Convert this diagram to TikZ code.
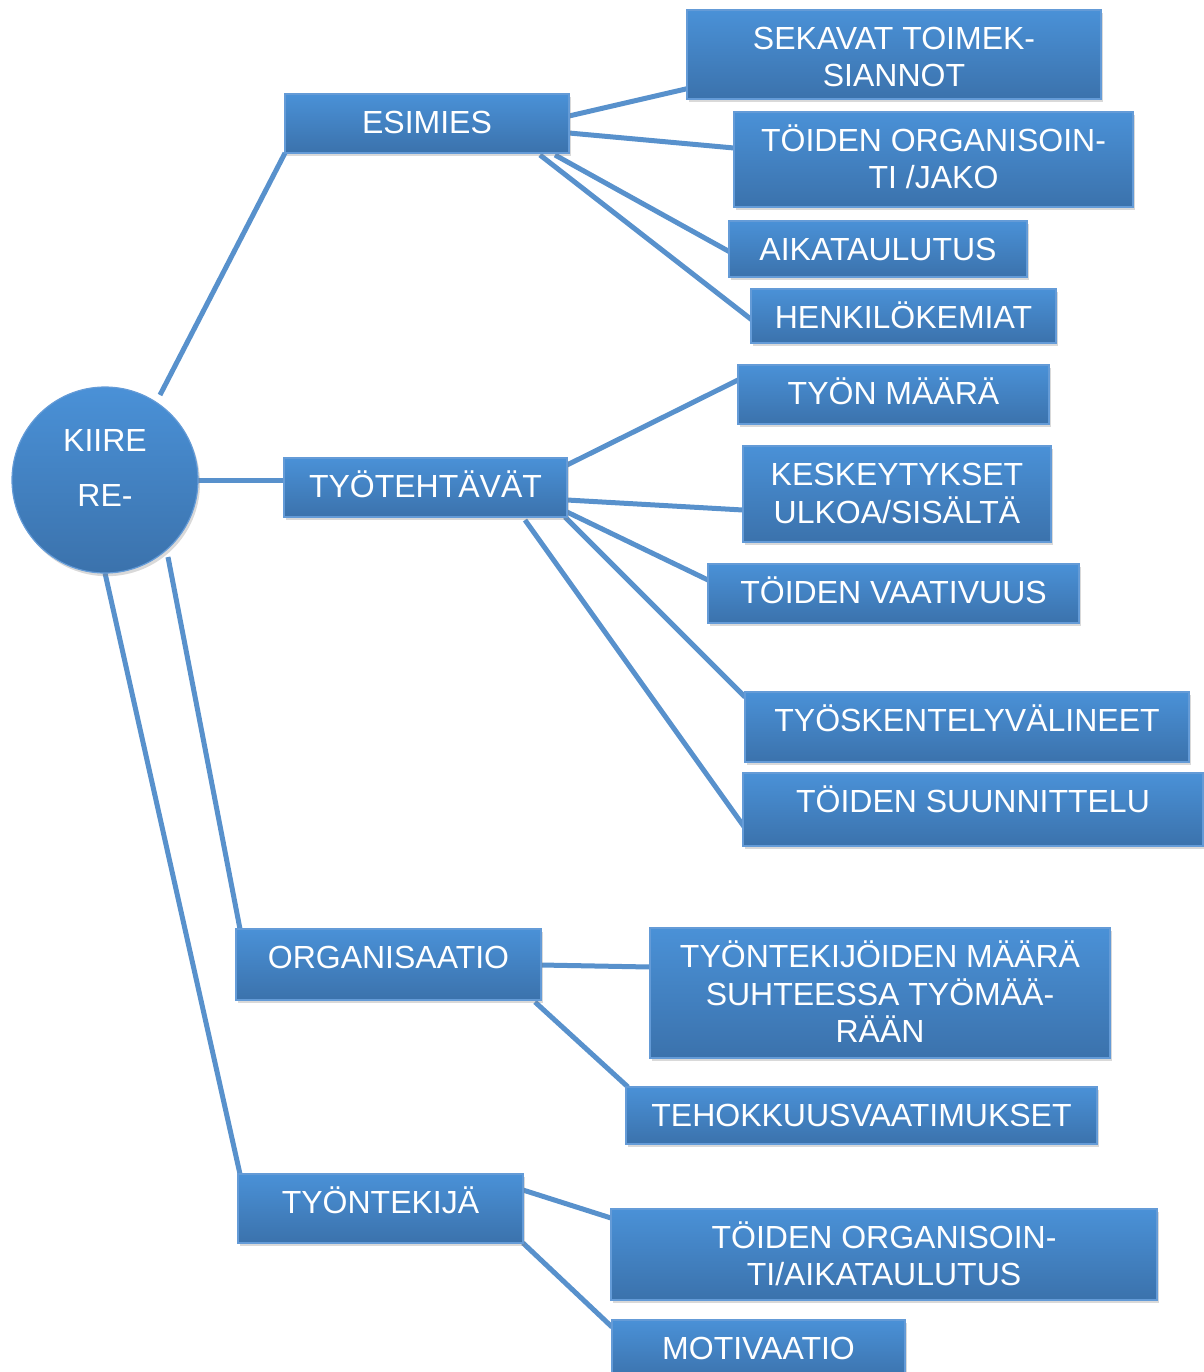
\documentclass[tikz,border=0pt]{standalone}
\usepackage{fontspec}
\setmainfont{Liberation Sans}
\usetikzlibrary{calc,backgrounds,shadows}
\definecolor{topblue}{RGB}{74,145,215}
\definecolor{botblue}{RGB}{59,114,172}
\definecolor{edgeblue}{RGB}{100,155,215}
\definecolor{linkblue}{RGB}{88,145,204}
\tikzset{
  boxnode/.style={rectangle, inner sep=0pt, outer sep=0pt, draw=edgeblue, line width=0.6pt,
    top color=topblue, bottom color=botblue,
    drop shadow={opacity=0.3, shadow xshift=1pt, shadow yshift=-1.6pt}},
  lbl/.style={anchor=base, yshift=-19.6pt, inner sep=0pt, text=white,
    font=\fontsize{16}{18.5}\selectfont},
  conn/.style={draw=linkblue, line width=2.5pt},
}
\newcommand{\lines}[1]{\setlength{\tabcolsep}{0pt}\begin{tabular}[t]{c}#1\end{tabular}}
\begin{document}
\begin{tikzpicture}[x=0.5pt,y=-0.5pt]
\useasboundingbox (0,0) rectangle (1204,1372);
\clip (0,0) rectangle (1204,1372);
% root circle
\node[circle, inner sep=0pt, outer sep=0pt, minimum size=93pt, draw=edgeblue, line width=0.6pt,
  top color=topblue, bottom color=botblue,
  drop shadow={opacity=0.3, shadow xshift=1pt, shadow yshift=-1.6pt}] (circ) at (105,480) {};
\node[text=white, align=center, font=\fontsize{16}{27.5}\selectfont] (circtext) at (105,468) {KIIRE\\RE-};
% level 1
\node[boxnode, minimum width=142pt, minimum height=29.5pt, label={[lbl]north:\lines{ESIMIES}}] (esimies) at (427,123.5) {};
\node[boxnode, minimum width=141.5pt, minimum height=29.5pt, label={[lbl]north:\lines{TYÖTEHTÄVÄT}}] (tyoteht) at (425.5,487.5) {};
\node[boxnode, minimum width=152.5pt, minimum height=35.5pt, label={[lbl]north:\lines{ORGANISAATIO}}] (org) at (388.5,964.5) {};
\node[boxnode, minimum width=142.5pt, minimum height=34.5pt, label={[lbl]north:\lines{TYÖNTEKIJÄ}}] (tyontekija) at (380.5,1208.5) {};
% esimies children
\node[boxnode, minimum width=207pt, minimum height=44.5pt, label={[lbl]north:\lines{SEKAVAT TOIMEK-\\SIANNOT}}] (sekavat) at (894,54.5) {};
\node[boxnode, minimum width=199.5pt, minimum height=47.5pt, label={[lbl]north:\lines{TÖIDEN ORGANISOIN-\\TI /JAKO}}] (toidorg) at (933.5,159.5) {};
\node[boxnode, minimum width=149pt, minimum height=28pt, label={[lbl]north:\lines{AIKATAULUTUS}}] (aika) at (878,249) {};
\node[boxnode, minimum width=152.5pt, minimum height=27pt, label={[lbl]north:\lines{HENKILÖKEMIAT}}] (henk) at (903.5,316) {};
% tyotehtavat children
\node[boxnode, minimum width=155.5pt, minimum height=29.5pt, label={[lbl]north:\lines{TYÖN MÄÄRÄ}}] (tyonmaara) at (893.5,394.5) {};
\node[boxnode, minimum width=154pt, minimum height=48pt, label={[lbl]north:\lines{KESKEYTYKSET\\ULKOA/SISÄLTÄ}}] (kesk) at (897,494) {};
\node[boxnode, minimum width=185.5pt, minimum height=29.5pt, label={[lbl]north:\lines{TÖIDEN VAATIVUUS}}] (vaat) at (893.5,593.5) {};
\node[boxnode, minimum width=222pt, minimum height=35pt, label={[lbl]north:\lines{TYÖSKENTELYVÄLINEET}}] (valin) at (967,727) {};
\node[boxnode, minimum width=230pt, minimum height=36.5pt, label={[lbl]north:\lines{TÖIDEN SUUNNITTELU}}] (suunn) at (973,809.5) {};
% organisaatio children
\node[boxnode, minimum width=230pt, minimum height=65pt, label={[lbl]north:\lines{TYÖNTEKIJÖIDEN MÄÄRÄ\\SUHTEESSA TYÖMÄÄ-\\RÄÄN}}] (tyontekmaara) at (880,993) {};
\node[boxnode, minimum width=235.5pt, minimum height=28.5pt, label={[lbl]north:\lines{TEHOKKUUSVAATIMUKSET}}] (tehok) at (861.5,1115.5) {};
% tyontekija children
\node[boxnode, minimum width=273pt, minimum height=45.5pt, label={[lbl]north:\lines{TÖIDEN ORGANISOIN-\\TI/AIKATAULUTUS}}] (toidorg2) at (884,1254.5) {};
\node[boxnode, minimum width=146.5pt, minimum height=30pt, label={[lbl]north:\lines{MOTIVAATIO}}] (motiv) at (758.5,1350) {};
\begin{pgfonlayer}{background}
\draw[conn] ($(circ.center)+(55,-85)$) -- (esimies.south west);
\draw[conn] (circ.east) -- (circ.east -| tyoteht.west);
\draw[conn] ($(circ.center)+(63,77)$) -- ($(org.north west)+(4,0)$);
\draw[conn] (circ.south) -- ($(tyontekija.north west)+(2,0)$);
\draw[conn] ($(esimies.east)+(0,-7.5)$) -- ($(sekavat.south west)+(3,-11)$);
\draw[conn] ($(esimies.east)+(0,9.5)$) -- ($(toidorg.west)+(0,-11.5)$);
\draw[conn] ($(esimies.south east)+(-14,2)$) -- ($(aika.west)+(1,3)$);
\draw[conn] ($(esimies.south east)+(-29,2)$) -- ($(henk.west)+(1,4)$);
\draw[conn] ($(tyoteht.north east)+(0,7)$) -- ($(tyonmaara.north west)+(0,15)$);
\draw[conn] ($(tyoteht.east)+(0,12.5)$) -- ($(kesk.west)+(0,16)$);
\draw[conn] ($(tyoteht.south east)+(0,-5)$) -- ($(vaat.west)+(0,-13.5)$);
\draw[conn] ($(tyoteht.south east)+(-2,0)$) -- ($(valin.north west)+(0,5)$);
\draw[conn] ($(tyoteht.south east)+(-42,3)$) -- ($(suunn.west)+(2,18.5)$);
\draw[conn] ($(org.east)+(0,0.5)$) -- ($(tyontekmaara.west)+(0,-26)$);
\draw[conn] ($(org.south east)+(-6,2)$) -- ($(tehok.north west)+(2,0)$);
\draw[conn] ($(tyontekija.north east)+(0,16)$) -- ($(toidorg2.north west)+(0,9)$);
\draw[conn] (tyontekija.south east) -- ($(motiv.north west)+(0,7)$);
\end{pgfonlayer}
\end{tikzpicture}
\end{document}
